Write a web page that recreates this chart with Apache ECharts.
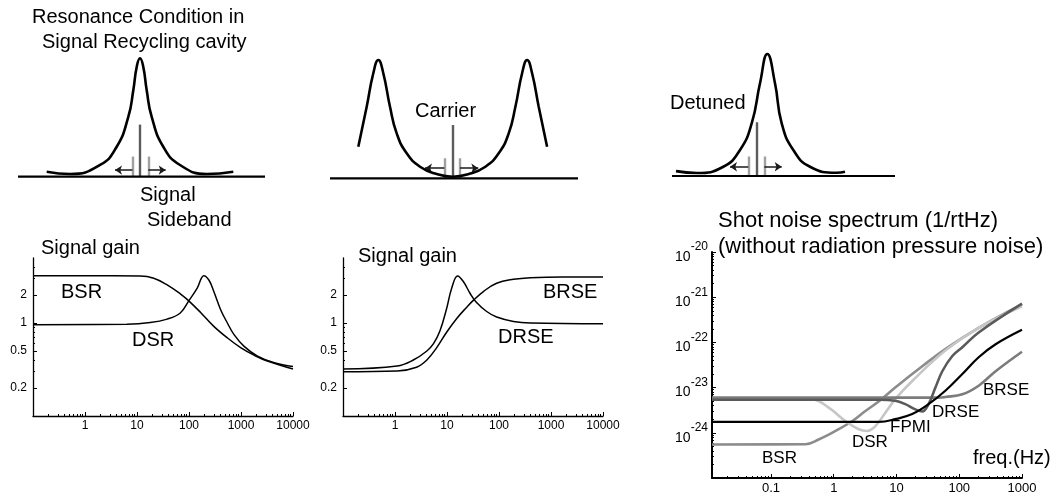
<!DOCTYPE html>
<html>
<head>
<meta charset="utf-8">
<title>Signal recycling: resonance, signal gain and shot noise</title>
<script src="https://cdn.jsdelivr.net/npm/echarts@6/dist/echarts.min.js"></script>
<style>
  html, body { margin: 0; padding: 0; background: #fff; }
  #chart { width: 1057px; height: 502px; }
</style>
</head>
<body>
<div id="chart"></div>
<script>
const FONT = '"Liberation Sans", Arial, Helvetica, sans-serif'

// sketches of the SR cavity resonance: detuning (arb.) vs response (0..1)
const brCurveX = [-9.33, -7, -4, -2.33, -1.17, -0.67, -0.33, 0, 0.33, 0.67, 1.17, 2.33, 4, 6.67, 9.33]
const brCurveY = [0.042, 0.023, 0.099, 0.253, 0.505, 0.73, 0.927, 1, 0.927, 0.73, 0.505, 0.253, 0.099, 0.023, 0.042]
const rseCurveX = [-9.44, -8.6, -7.94, -7.44, -6.94, -6.27, -5.6, -4.6, -3.27, -1.6, 0, 1.6, 3.27, 4.6, 5.6, 6.27, 6.94, 7.44, 7.94, 8.6, 9.44]
const rseCurveY = [0.267, 0.605, 0.888, 1, 0.888, 0.605, 0.38, 0.211, 0.098, 0.036, 0.0135, 0.036, 0.098, 0.211, 0.38, 0.605, 0.888, 1, 0.888, 0.605, 0.267]
const detCurveX = [-8.07, -6, -3.34, -1.67, -0.5, 0.33, 1.06, 1.83, 2.5, 3.66, 5.33, 8, 8.83]
const detCurveY = [0.04, 0.025, 0.076, 0.213, 0.432, 0.76, 1, 0.76, 0.432, 0.213, 0.076, 0.027, 0.035]
const sidebandX = [[-0.75, 0.83], [-0.84, 0.73], [-0.84, 0.76]]
const carrierHeight = [0.44, 0.45, 0.44]
const sidebandHeight = [0.17, 0.17, 0.16]
const arrowLevel = [0.056, 0.085, 0.076]
const arrowTip = [[-2.5, 2.57], [-2.77, 2.56], [-2.67, 2.5]]

// signal gain vs frequency (Hz)
const bsrFreq = [0.1, 1, 11.6, 21, 38, 68, 99, 167, 300, 550, 1000, 1800, 3200, 10000]
const bsrGain = [3.22, 3.22, 3.2, 3.03, 2.57, 2.06, 1.73, 1.3, 0.92, 0.69, 0.54, 0.45, 0.39, 0.32]
const dsrFreq = [0.1, 6.4, 18, 38, 68, 99, 144, 193, 241, 300, 406, 547, 735, 1150, 2080, 4370, 10000]
const dsrGain = [0.96, 0.97, 1.01, 1.1, 1.28, 1.73, 2.37, 3.23, 2.9, 2.18, 1.39, 1, 0.75, 0.56, 0.44, 0.373, 0.34]
const brseFreq = [0.1, 1.1, 2.6, 4.1, 6.3, 9.9, 15.4, 24, 32, 50, 90, 190, 400, 1700, 10000]
const brseGain = [0.3, 0.305, 0.335, 0.4, 0.54, 0.8, 1.12, 1.48, 1.75, 2.18, 2.68, 2.95, 3.07, 3.13, 3.13]
const drseFreq = [0.1, 1.1, 2.25, 4.1, 5.5, 7.3, 9.9, 12.3, 16, 20.6, 27.7, 37, 58, 90, 190, 400, 10000]
const drseGain = [0.32, 0.345, 0.4, 0.5, 0.6, 0.82, 1.45, 2.37, 3.2, 2.79, 2.09, 1.66, 1.33, 1.16, 1.04, 1, 0.98]

// shot noise spectrum (1/rtHz) vs frequency (Hz)
const snBsrFreq = [0.0115, 0.355, 0.575, 1.07, 1.95, 3.16, 5.25, 9.55, 17.8, 60, 204, 1000]
const snBsr = [5.5e-25, 5.6e-25, 7.1e-25, 1.1e-24, 1.8e-24, 3.0e-24, 5.0e-24, 1.0e-23, 2.0e-23, 7.1e-23, 2.1e-22, 6.9e-22]
const snDsrFreq = [0.0115, 0.45, 0.83, 1.55, 2.5, 3.4, 4.6, 6.6, 9.5, 17.8, 60, 204, 1000]
const snDsr = [5.5e-24, 5.5e-24, 3.6e-24, 1.8e-24, 1.2e-24, 1.1e-24, 1.4e-24, 2.75e-24, 5.5e-24, 1.4e-23, 6.6e-23, 2.1e-22, 6.3e-22]
const snFpmiFreq = [0.0115, 5.25, 9.55, 17.8, 32.4, 60, 112, 204, 380, 1000]
const snFpmi = [1.74e-24, 1.74e-24, 2.0e-24, 2.6e-24, 4.3e-24, 8.5e-24, 2.0e-23, 4.7e-23, 9.1e-23, 1.9e-22]
const snBrseFreq = [0.0115, 47, 60, 112, 204, 380, 1000]
const snBrse = [6.0e-24, 6.0e-24, 6.2e-24, 7.1e-24, 1.1e-23, 2.3e-23, 6.2e-23]
const snDrseFreq = [0.0115, 5.25, 9.55, 13.8, 20, 25.7, 32.4, 41.7, 53.7, 77.6, 112, 204, 1000]
const snDrse = [5.4e-24, 5.4e-24, 5.1e-24, 4.3e-24, 3.3e-24, 2.95e-24, 4.3e-24, 1.0e-23, 2.3e-23, 5.0e-23, 7.8e-23, 1.66e-22, 7.2e-22]

// tick labels
const gainFreqTicks = [1, 10, 100, 1000, 10000]
const gainTicks = [0.2, 0.5, 1, 2]
const noiseFreqTicks = [0.1, 1, 10, 100, 1000]
const noiseExponents = [-24, -23, -22, -21, -20]

const chart = echarts.init(document.getElementById('chart'), null, { renderer: 'canvas' })

const grid = []
const xAxis = []
const yAxis = []
const series = []

const log = (v) => Math.log10(v)
const logPairs = (xs, ys) => xs.map((x, i) => [log(x), log(ys[i])])
const pretty = (v) => String(+Math.pow(10, v).toPrecision(2))

const minorTicks = (fromExp, toExp, lo, hi) => {
  const out = []
  for (let e = fromExp; e < toExp; e++) {
    for (let k = 2; k <= 9; k++) {
      const v = log(k) + e
      if (v > lo && v < hi) out.push(v)
    }
  }
  return out
}

const hiddenAxis = (gridIndex, min, max) => ({
  gridIndex, type: 'value', min, max, show: false
})

function addSketch(box, xRange, curveX, curveY, idx) {
  const gi = grid.length
  grid.push(box)
  const xi = xAxis.length
  const yi = yAxis.length
  xAxis.push(hiddenAxis(gi, xRange[0], xRange[1]))
  yAxis.push(hiddenAxis(gi, 0, 1))
  const on = { xAxisIndex: xi, yAxisIndex: yi, silent: true }

  series.push({
    ...on, type: 'line', data: [[xRange[0], 0], [xRange[1], 0]],
    showSymbol: false, clip: false, lineStyle: { color: '#000', width: 2.2 }
  })
  series.push({
    ...on, type: 'line', data: curveX.map((x, i) => [x, curveY[i]]),
    smooth: 0.5, showSymbol: false, clip: false,
    lineStyle: { color: '#000', width: 2.6 }
  })
  series.push({
    ...on, type: 'lines', coordinateSystem: 'cartesian2d',
    lineStyle: { color: '#a0a0a0', width: 2.4, opacity: 1 },
    data: sidebandX[idx].map((x) => ({ coords: [[x, 0], [x, sidebandHeight[idx]]] }))
  })
  series.push({
    ...on, type: 'lines', coordinateSystem: 'cartesian2d',
    lineStyle: { color: '#5c5c5c', width: 2.4, opacity: 1 },
    data: [{ coords: [[0, 0], [0, carrierHeight[idx]]] }]
  })
  series.push({
    ...on, type: 'lines', coordinateSystem: 'cartesian2d',
    symbol: ['none', 'arrow'], symbolSize: 7,
    lineStyle: { color: '#1a1a1a', width: 1.6, opacity: 1 },
    data: sidebandX[idx].map((x, k) => ({
      coords: [[x, arrowLevel[idx]], [arrowTip[idx][k], arrowLevel[idx]]]
    }))
  })
}

function addLogPanel(cfg) {
  const gi = grid.length
  grid.push(cfg.box)
  const xi = xAxis.length
  const yi = yAxis.length
  const line = { show: true, onZero: false, lineStyle: { color: '#000', width: cfg.axisWidth } }
  const label = { color: '#000', fontFamily: FONT, fontSize: cfg.labelSize }
  const tickStyle = { color: '#000', width: 1 }

  xAxis.push({
    gridIndex: gi, type: 'value', position: 'bottom', min: cfg.x[0], max: cfg.x[1],
    axisLine: line, splitLine: { show: false },
    axisTick: { show: true, inside: true, length: 4, customValues: cfg.xMajor, lineStyle: tickStyle },
    axisLabel: { ...label, margin: 4, customValues: cfg.xMajor, formatter: pretty }
  })
  xAxis.push({
    gridIndex: gi, type: 'value', position: 'bottom', min: cfg.x[0], max: cfg.x[1],
    axisLine: { show: false, onZero: false }, splitLine: { show: false }, axisLabel: { show: false },
    axisTick: { show: true, inside: true, length: 2, customValues: cfg.xMinor, lineStyle: tickStyle }
  })
  yAxis.push({
    gridIndex: gi, type: 'value', position: 'left', min: cfg.y[0], max: cfg.y[1],
    axisLine: line, splitLine: { show: false },
    axisTick: { show: true, inside: true, length: 4, customValues: cfg.yMajor, lineStyle: tickStyle },
    axisLabel: { ...label, margin: cfg.yMargin, customValues: cfg.yLabels,
      formatter: cfg.yFormatter, rich: cfg.rich }
  })
  yAxis.push({
    gridIndex: gi, type: 'value', position: 'left', min: cfg.y[0], max: cfg.y[1],
    axisLine: { show: false, onZero: false }, splitLine: { show: false }, axisLabel: { show: false },
    axisTick: { show: true, inside: true, length: 2, customValues: cfg.yMinor, lineStyle: tickStyle }
  })

  cfg.curves.forEach(([xs, ys, color, width]) => {
    series.push({
      type: 'line', xAxisIndex: xi, yAxisIndex: yi, silent: true,
      data: logPairs(xs, ys), smooth: 0.4,
      showSymbol: false, lineStyle: { color, width }
    })
  })
}

addSketch({ left: 18, top: 58.3, width: 247, height: 118.4 }, [-12.2, 12.5], brCurveX, brCurveY, 0)
addSketch({ left: 330, top: 60, width: 248, height: 118.3 }, [-12.27, 12.53], rseCurveX, rseCurveY, 1)
addSketch({ left: 672, top: 54, width: 223, height: 122 }, [-8.47, 13.83], detCurveX, detCurveY, 2)

const gainPanel = (left, curves) => ({
  box: { left, top: 258, width: 260, height: 158 },
  x: [-1, 4], y: [-1, log(5)],
  xMajor: gainFreqTicks.map(log), xMinor: minorTicks(-1, 4, -1, 4),
  yMajor: gainTicks.map(log), yLabels: gainTicks.map(log),
  yMinor: minorTicks(-1, 1, -1, log(5)),
  yFormatter: pretty, yMargin: 6, labelSize: 12, axisWidth: 1.3,
  curves
})

addLogPanel(gainPanel(33, [
  [bsrFreq, bsrGain, '#000', 1.5],
  [dsrFreq, dsrGain, '#000', 1.5]
]))
addLogPanel(gainPanel(343, [
  [brseFreq, brseGain, '#000', 1.5],
  [drseFreq, drseGain, '#000', 1.5]
]))

addLogPanel({
  box: { left: 712, top: 252, width: 310, height: 226 },
  x: [-1.94, 3], y: [-25, -20],
  xMajor: noiseFreqTicks.map(log), xMinor: minorTicks(-2, 3, -1.94, 3),
  yMajor: noiseExponents, yLabels: noiseExponents,
  yMinor: minorTicks(-25, -20, -25, -20),
  yFormatter: (v) => `{b|10}{s|${Math.round(v)}}`,
  rich: {
    b: { fontFamily: FONT, fontSize: 14, lineHeight: 15, padding: [10, 0, 0, 0], color: '#000' },
    s: { fontFamily: FONT, fontSize: 12, lineHeight: 15, padding: [0, 0, 10, 0], color: '#000' }
  },
  yMargin: 4, labelSize: 13, axisWidth: 2,
  curves: [
    [snBsrFreq, snBsr, '#8c8c8c', 2.6],
    [snDsrFreq, snDsr, '#c6c6c6', 2.6],
    [snBrseFreq, snBrse, '#7c7c7c', 2.6],
    [snDrseFreq, snDrse, '#5a5a5a', 2.6],
    [snFpmiFreq, snFpmi, '#000', 2.2]
  ]
})

const label = (text, x, y, size) => ({
  type: 'text', x, y, silent: true,
  style: { text, fill: '#000', fontFamily: FONT, fontSize: size, align: 'left', verticalAlign: 'middle' }
})

const graphic = [
  label('Resonance Condition in', 32, 17, 20),
  label('Signal Recycling cavity', 42, 42, 20),
  label('Signal', 140, 195, 20),
  label('Sideband', 147, 220, 20),
  label('Carrier', 415, 111, 20),
  label('Detuned', 670, 103, 20),
  label('Signal gain', 41, 248, 20),
  label('BSR', 61, 292, 20),
  label('DSR', 132, 340, 20),
  label('Signal gain', 358, 256, 20),
  label('BRSE', 543, 292, 20),
  label('DRSE', 498, 337, 20),
  label('Shot noise spectrum (1/rtHz)', 718, 221, 22),
  label('(without radiation pressure noise)', 718, 247, 22),
  label('BRSE', 983, 390, 17),
  label('DRSE', 932, 412, 17),
  label('FPMI', 890, 427, 17),
  label('DSR', 852, 442, 17),
  label('BSR', 762, 458, 17),
  label('freq.(Hz)', 973, 458, 20)
]

chart.setOption({
  animation: false,
  backgroundColor: '#fff',
  textStyle: { fontFamily: FONT },
  grid, xAxis, yAxis, series, graphic
})
</script>
</body>
</html>
